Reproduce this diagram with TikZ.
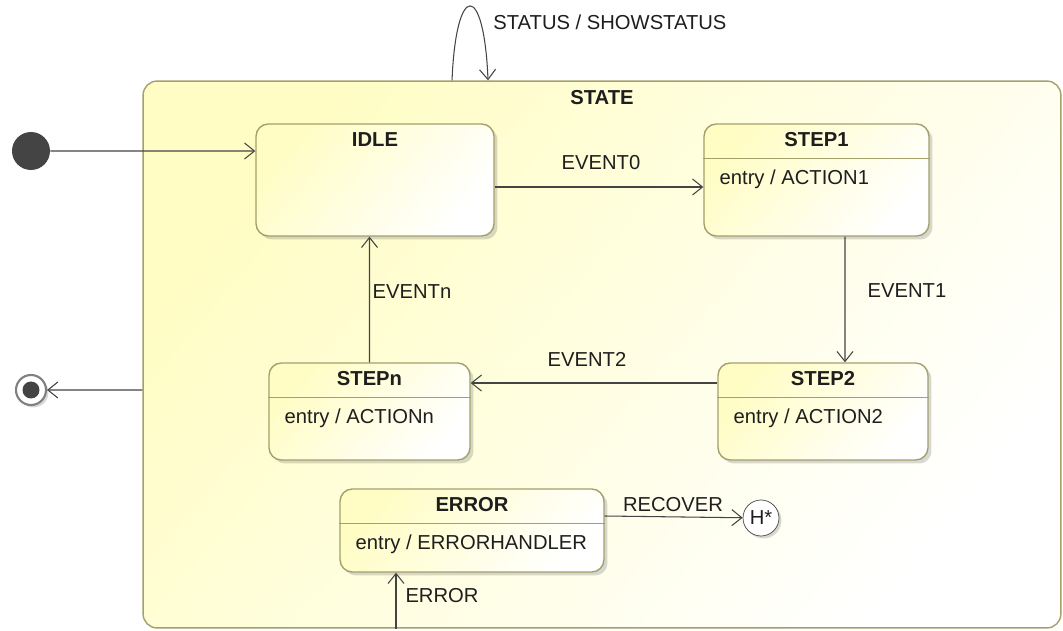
\documentclass[tikz,border=0pt]{standalone}
\usepackage{fontspec}
\setmainfont{Liberation Sans}
\usetikzlibrary{positioning,arrows.meta,shadows}
\definecolor{umlfill}{HTML}{FFFDC4}
\definecolor{umlborder}{HTML}{A3A06C}
\definecolor{umlline}{HTML}{444444}
\definecolor{umltext}{HTML}{1E1E1E}
\tikzstyle{superstate}=[draw=umlborder, thick, rounded corners=8pt, top color=umlfill, bottom color=white, shading angle=50]
\tikzstyle{substate}=[draw=umlborder, thick, rounded corners=7pt, top color=umlfill, bottom color=white, shading angle=50, drop shadow={shadow xshift=0.07cm, shadow yshift=-0.07cm, opacity=0.3}]
\tikzstyle{statetitle}=[font=\fontsize{11.5}{13}\bfseries, inner sep=0]
\tikzstyle{entrytext}=[inner sep=0]
\tikzstyle{evlabel}=[inner sep=0]
\tikzstyle{trans}=[-{Straight Barb[length=2mm,width=3.2mm]}, umlline, semithick]
\newcommand{\umlstate}[6]{
  \node[substate, minimum width=#4cm, minimum height=#5cm] (#1) at (#2,#3) {};
  \node[statetitle, below=0.18cm of #1.north] (#1-title) {#6};
}
\newcommand{\umlentry}[2]{
  \draw[umlborder, thick] ([yshift=-0.7cm]#1.north west) -- ([yshift=-0.7cm]#1.north east);
  \node[entrytext, below right=0.92cm and 0.32cm of #1.north west] (#1-entry) {entry / #2};
}

\begin{document}
\begin{tikzpicture}[x=0.02cm, y=-0.02cm, font=\fontsize{11.5}{13}\selectfont, text=umltext]
  \useasboundingbox (0,0) rectangle (1063,631);
  % composite state
  \node[superstate, minimum width=18.36cm, minimum height=10.94cm] (state) at (602,354.5) {};
  \node[statetitle, below=0.2cm of state.north] (state-title) {STATE};
  % pseudo states
  \node[circle, fill=umlline, inner sep=0, minimum size=0.76cm] (init) at (31,151) {};
  \node[circle, draw=gray, very thick, fill=white, inner sep=0, minimum size=0.6cm,
        drop shadow={shadow xshift=0.05cm, shadow yshift=-0.05cm, opacity=0.3}] (final) at (31,390) {};
  \fill[umlline] (final.center) circle (0.17cm);
  \node[circle, draw=umlline, fill=white, inner sep=0, minimum size=0.72cm,
        drop shadow={shadow xshift=0.05cm, shadow yshift=-0.05cm, opacity=0.3}] (hist) at (761,518) {H*};
  % substates
  \umlstate{idle}{375}{180}{4.76}{2.24}{IDLE}
  \umlstate{step1}{816.5}{180}{4.5}{2.24}{STEP1}
  \umlentry{step1}{ACTION1}
  \umlstate{step2}{823}{411.5}{4.2}{1.94}{STEP2}
  \umlentry{step2}{ACTION2}
  \umlstate{stepn}{369.5}{411.5}{4.02}{1.94}{STEPn}
  \umlentry{stepn}{ACTIONn}
  \umlstate{error}{472}{530.5}{5.28}{1.66}{ERROR}
  \umlentry{error}{ERRORHANDLER}
  % transitions
  \draw[trans] (init) -- ([yshift=0.58cm]idle.west);
  \draw[trans] ([yshift=-0.14cm]idle.east) -- ([yshift=-0.14cm]step1.west);
  \draw[trans] ([xshift=0.57cm]step1.south) -- ([xshift=0.44cm]step2.north);
  \draw[trans] ([yshift=0.57cm]step2.west) -- ([yshift=0.57cm]stepn.east);
  \draw[trans] (stepn.north) -- ([xshift=-0.11cm]idle.south);
  \draw[trans] ([yshift=0.29cm]error.east) -- (hist);
  \coordinate (errin) at ([xshift=-1.52cm]error.south);
  \draw[trans] (errin |- state.south) -- (errin);
  \draw[trans] ([yshift=-0.71cm]state.west) -- (final);
  \draw[trans] ([xshift=-3cm]state.north) .. controls +(4,-99) and +(-4,-99) .. ([xshift=-2.28cm]state.north);
  % labels
  \node[evlabel, anchor=west] (status) at (493,22) {STATUS / SHOWSTATUS};
  \node[evlabel] (event0) at (601,163) {EVENT0};
  \node[evlabel] (event1) at (907,291) {EVENT1};
  \node[evlabel] (event2) at (587,359) {EVENT2};
  \node[evlabel] (eventn) at (412,292) {EVENTn};
  \node[evlabel] (recover) at (673,505) {RECOVER};
  \node[evlabel] (errlbl) at (442,596) {ERROR};
\end{tikzpicture}
\end{document}
